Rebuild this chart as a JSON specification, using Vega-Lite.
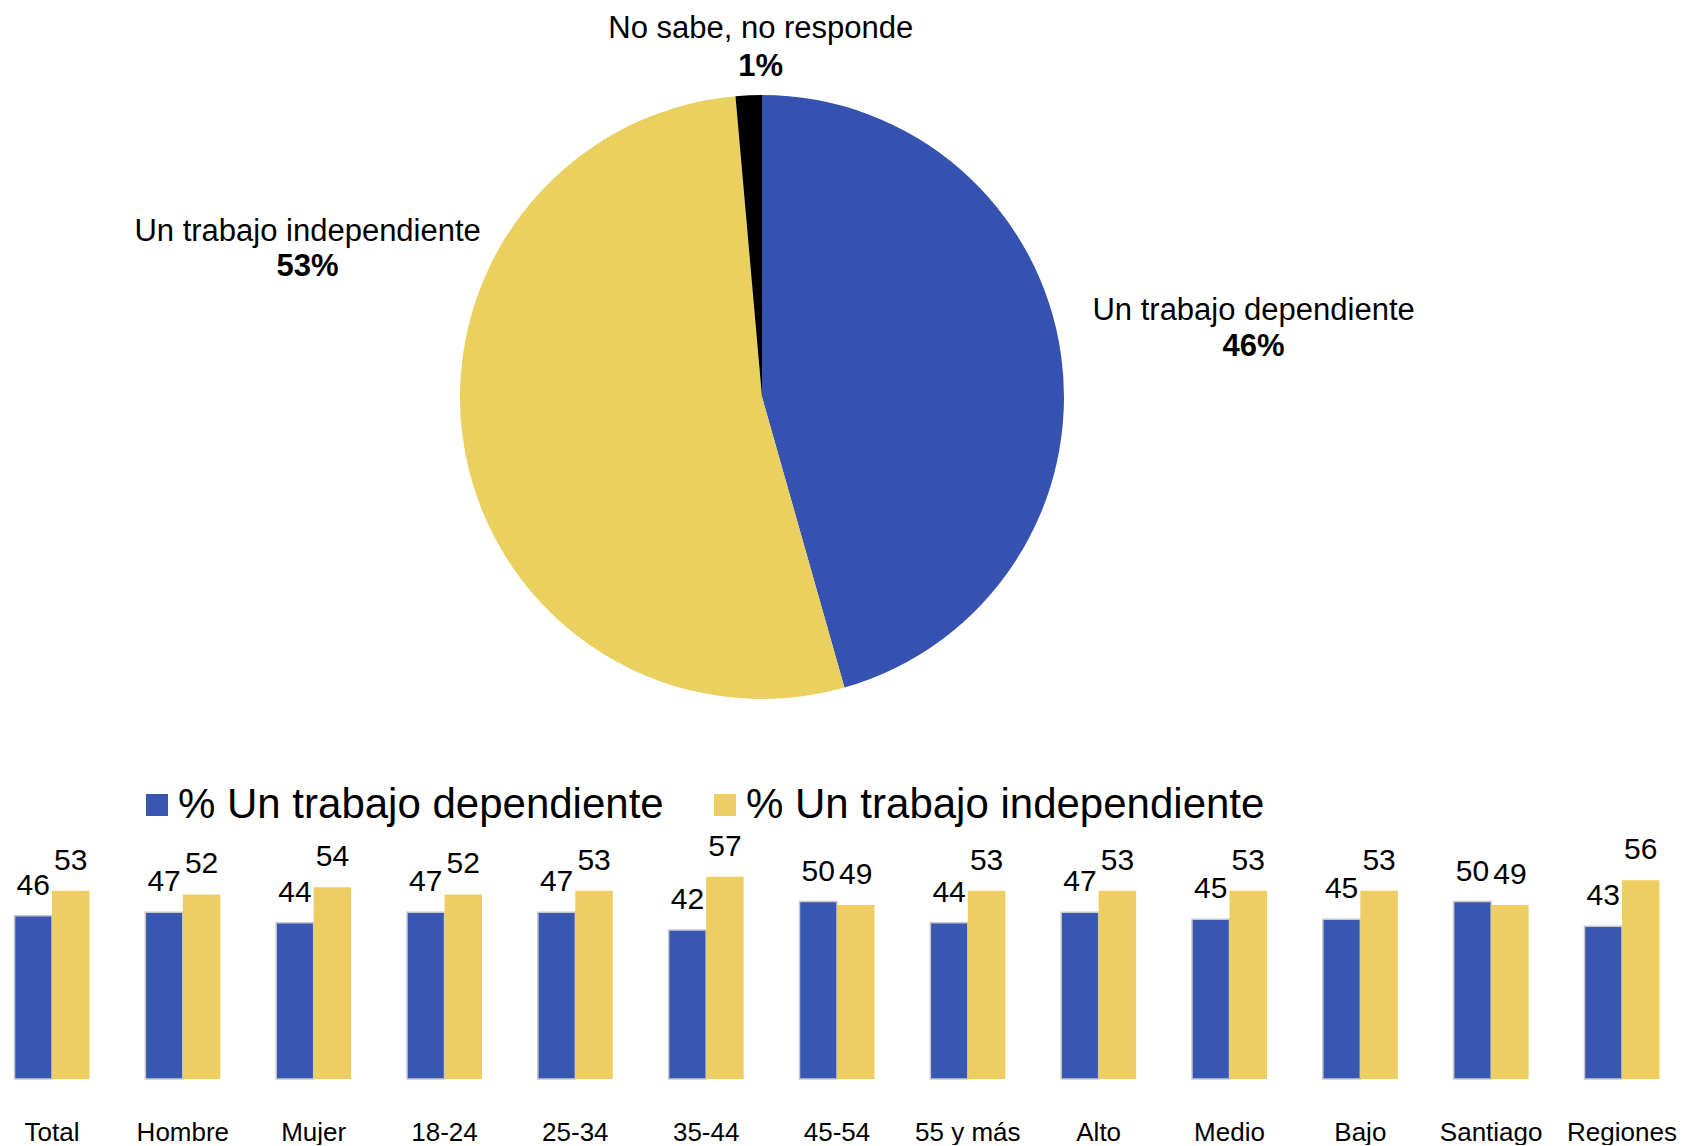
{
  "$schema": "https://vega.github.io/schema/vega-lite/v6.json",
  "padding": 0,
  "autosize": {"type": "pad"},
  "bounds": "flush",
  "spacing": 1,
  "background": "white",
  "config": {"view": {"stroke": null}, "font": "Liberation Sans"},
  "resolve": {"scale": {"color": "independent"}, "legend": {"color": "independent"}},
  "vconcat": [
    {
      "width": 1524,
      "height": 794,
      "data": {"values": [
        {"cat": "Un trabajo dependiente", "pct": 0.456},
        {"cat": "Un trabajo independiente", "pct": 0.530},
        {"cat": "No sabe, no responde", "pct": 0.014}
      ]},
      "transform": [{"window": [{"op": "row_number", "as": "orden"}]}],
      "encoding": {
        "theta": {"field": "pct", "type": "quantitative", "stack": true},
        "order": {"field": "orden", "type": "quantitative"}
      },
      "layer": [
        {
          "mark": {"type": "arc", "outerRadius": 302},
          "encoding": {
            "color": {"field": "cat", "type": "nominal",
              "scale": {"domain": ["Un trabajo dependiente", "Un trabajo independiente", "No sabe, no responde"], "range": ["#3552B0", "#EAD05E", "#000000"]},
              "legend": null}
          }
        },
        {
          "mark": {"type": "text", "radius": 460, "fontSize": 31, "color": "#000000", "align": "center", "baseline": "alphabetic",
            "dx": {"expr": "datum.cat === 'Un trabajo dependiente' ? 36 : datum.cat === 'Un trabajo independiente' ? -2 : 19"},
            "dy": {"expr": "datum.cat === 'Un trabajo dependiente' ? -14 : datum.cat === 'Un trabajo independiente' ? -239 : 101"}},
          "encoding": {"text": {"field": "cat", "type": "nominal"}}
        },
        {
          "mark": {"type": "text", "radius": 460, "fontSize": 31, "fontWeight": "bold", "color": "#000000", "align": "center", "baseline": "alphabetic",
            "dx": {"expr": "datum.cat === 'Un trabajo dependiente' ? 36 : datum.cat === 'Un trabajo independiente' ? -2 : 19"},
            "dy": {"expr": "datum.cat === 'Un trabajo dependiente' ? 22 : datum.cat === 'Un trabajo independiente' ? -204 : 139"}},
          "encoding": {"text": {"field": "pct", "type": "quantitative", "format": ".0%"}}
        }
      ]
    },
    {
      "width": 1674,
      "height": 284,
      "data": {"values": [
        {"grupo": "Total", "serie": "% Un trabajo dependiente", "valor": 46},
        {"grupo": "Total", "serie": "% Un trabajo independiente", "valor": 53},
        {"grupo": "Hombre", "serie": "% Un trabajo dependiente", "valor": 47},
        {"grupo": "Hombre", "serie": "% Un trabajo independiente", "valor": 52},
        {"grupo": "Mujer", "serie": "% Un trabajo dependiente", "valor": 44},
        {"grupo": "Mujer", "serie": "% Un trabajo independiente", "valor": 54},
        {"grupo": "18-24", "serie": "% Un trabajo dependiente", "valor": 47},
        {"grupo": "18-24", "serie": "% Un trabajo independiente", "valor": 52},
        {"grupo": "25-34", "serie": "% Un trabajo dependiente", "valor": 47},
        {"grupo": "25-34", "serie": "% Un trabajo independiente", "valor": 53},
        {"grupo": "35-44", "serie": "% Un trabajo dependiente", "valor": 42},
        {"grupo": "35-44", "serie": "% Un trabajo independiente", "valor": 57},
        {"grupo": "45-54", "serie": "% Un trabajo dependiente", "valor": 50},
        {"grupo": "45-54", "serie": "% Un trabajo independiente", "valor": 49},
        {"grupo": "55 y más", "serie": "% Un trabajo dependiente", "valor": 44},
        {"grupo": "55 y más", "serie": "% Un trabajo independiente", "valor": 53},
        {"grupo": "Alto", "serie": "% Un trabajo dependiente", "valor": 47},
        {"grupo": "Alto", "serie": "% Un trabajo independiente", "valor": 53},
        {"grupo": "Medio", "serie": "% Un trabajo dependiente", "valor": 45},
        {"grupo": "Medio", "serie": "% Un trabajo independiente", "valor": 53},
        {"grupo": "Bajo", "serie": "% Un trabajo dependiente", "valor": 45},
        {"grupo": "Bajo", "serie": "% Un trabajo independiente", "valor": 53},
        {"grupo": "Santiago", "serie": "% Un trabajo dependiente", "valor": 50},
        {"grupo": "Santiago", "serie": "% Un trabajo independiente", "valor": 49},
        {"grupo": "Regiones", "serie": "% Un trabajo dependiente", "valor": 43},
        {"grupo": "Regiones", "serie": "% Un trabajo independiente", "valor": 56}
      ]},
      "encoding": {
        "x": {"field": "grupo", "type": "nominal", "sort": null,
          "scale": {"paddingInner": 0.427, "paddingOuter": 0.111},
          "axis": {"title": null, "labelAngle": 0, "labelFontSize": 26, "labelColor": "#000000", "domain": false, "ticks": false, "tickSize": 0, "labelPadding": 61, "labelBaseline": "alphabetic", "labelLimit": 0, "labelOverlap": false}},
        "xOffset": {"field": "serie", "type": "nominal", "sort": null, "scale": {"paddingInner": 0, "paddingOuter": 0}},
        "y": {"field": "valor", "type": "quantitative", "scale": {"domain": [0, 80], "nice": false}, "axis": null}
      },
      "layer": [
        {
          "mark": {"type": "bar", "strokeWidth": 1.5},
          "encoding": {
            "color": {"field": "serie", "type": "nominal",
              "scale": {"domain": ["% Un trabajo dependiente", "% Un trabajo independiente"], "range": ["#3857B1", "#EECE62"]},
              "legend": {"orient": "none", "legendX": 136, "legendY": -11, "direction": "horizontal", "title": null, "padding": 0,
                "labelFontSize": 42, "labelColor": "#000000", "labelLimit": 1000, "symbolType": "square", "symbolSize": 484,
                "symbolStrokeWidth": 0, "labelOffset": 0, "columnPadding": 40}},
            "stroke": {"condition": {"test": "datum.serie === '% Un trabajo dependiente'", "value": "#c8c8c8"}, "value": "transparent"}
          }
        },
        {
          "mark": {"type": "text", "fontSize": 30, "color": "#000000", "baseline": "alphabetic", "dy": -21},
          "encoding": {"text": {"field": "valor", "type": "quantitative"}}
        }
      ]
    }
  ]
}
